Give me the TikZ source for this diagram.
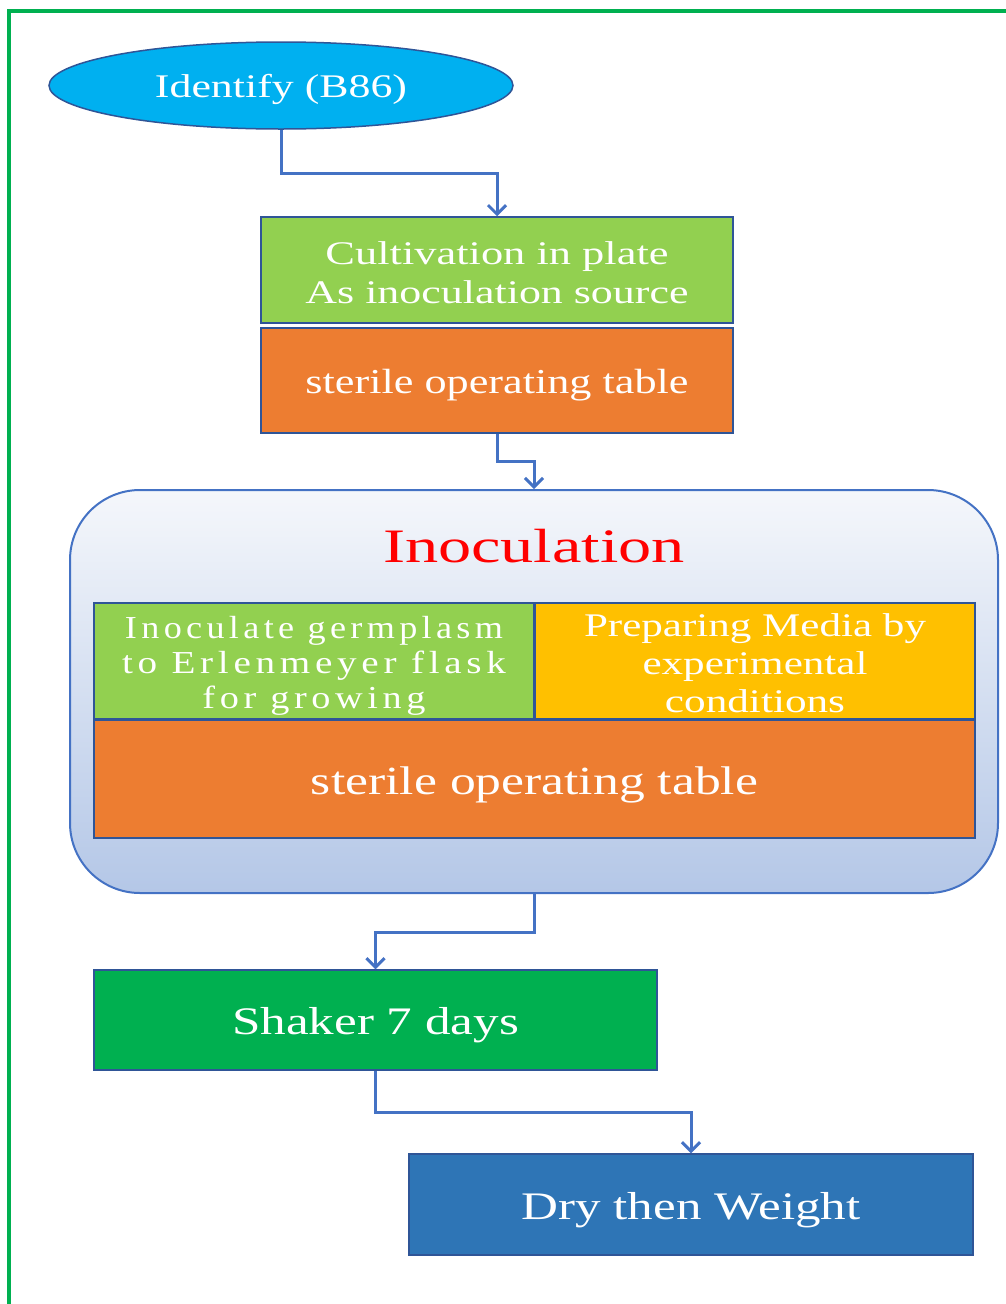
\documentclass[tikz,border=0pt]{standalone}
\usepackage{fontspec}
\setmainfont{Liberation Serif}
\newfontfamily\spacedfont[LetterSpace=12]{Liberation Serif}
\usetikzlibrary{arrows.meta,shapes.geometric}
\newcommand\sqz[2]{\resizebox{#1pt}{\height}{#2}}
\definecolor{cyanfill}{HTML}{00B0F0}
\definecolor{edgeblue}{HTML}{2F5597}
\definecolor{lgreen}{HTML}{92D050}
\definecolor{orng}{HTML}{ED7D31}
\definecolor{yell}{HTML}{FFC000}
\definecolor{dgreen}{HTML}{00B050}
\definecolor{dblue}{HTML}{2E75B6}
\definecolor{connblue}{HTML}{4472C4}
\definecolor{shadetop}{HTML}{F5F7FB}
\definecolor{shadebot}{HTML}{B4C7E7}
\tikzset{
  box/.style={rectangle, draw=edgeblue, line width=1.5pt, inner sep=0pt},
  txt/.style={inner sep=0pt, text=white, align=center},
  conn/.style={draw=connblue, line width=3pt, -{Straight Barb[length=9pt,width=18pt]}},
}
\begin{document}
\begin{tikzpicture}[x=1pt,y=-1pt]
\useasboundingbox (0,0) rectangle (1005,1304);
% outer green frame
\draw[dgreen, line width=4pt] (9,1310) -- (9,11) -- (1010,11);

% ellipse
\node[ellipse, fill=cyanfill, draw=edgeblue, line width=1.5pt, minimum width=464pt, minimum height=87pt, inner sep=0pt] (ell) at (281,85.5) {};
\node[txt, font=\fontsize{33}{39}\selectfont, yshift=-4pt] (ellT) at (ell) {\sqz{252}{Identify (B86)}};

% cultivation and sterile table
\node[box, fill=lgreen, minimum width=472pt, minimum height=106pt] (cult) at (497,270) {};
\node[txt, font=\fontsize{33}{39}\selectfont, yshift=-3pt] (cultT) at (cult)
  {\sqz{343}{Cultivation in plate}\\\sqz{383}{As inoculation source}};
\node[box, fill=orng, minimum width=472pt, minimum height=105pt] (st1) at (497,380.5) {};
\node[txt, font=\fontsize{35}{40}\selectfont, yshift=-5pt] (st1T) at (st1) {\sqz{383}{sterile operating table}};

% inoculation container
\node[rectangle, rounded corners=70pt, draw=connblue, line width=2pt, top color=shadetop, bottom color=shadebot,
  minimum width=928pt, minimum height=403pt, inner sep=0pt] (inoc) at (534,691.5) {};
\node[text=red, font=\fontsize{48}{52}\selectfont, inner sep=0pt] (title) at (534,546) {\sqz{302}{Inoculation}};

\node[box, fill=lgreen, minimum width=440pt, minimum height=116pt] (grn) at (314,661) {};
\node[txt, font=\spacedfont\fontsize{32}{35}\selectfont, yshift=-5pt] (grnT) at (grn)
  {\sqz{378}{Inoculate germplasm}\\\sqz{384}{to Erlenmeyer flask}\\\sqz{223}{for growing}};
\node[box, fill=yell, minimum width=440pt, minimum height=116pt] (yel) at (755,661) {};
\node[txt, font=\fontsize{33}{38}\selectfont, yshift=-2pt] (yelT) at (yel)
  {\sqz{342}{Preparing Media by}\\\sqz{225}{experimental}\\\sqz{180}{conditions}};
\node[box, fill=orng, minimum width=881pt, minimum height=118pt] (st2) at (534.5,779) {};
\node[txt, font=\fontsize{40}{44}\selectfont, yshift=-6pt] (st2T) at (st2) {\sqz{447}{sterile operating table}};

% shaker and dry
\node[box, fill=dgreen, minimum width=563pt, minimum height=100pt] (shk) at (375.5,1020) {};
\node[txt, font=\fontsize{39}{44}\selectfont, yshift=-5pt] (shkT) at (shk) {\sqz{287}{Shaker 7 days}};
\node[box, fill=dblue, minimum width=564pt, minimum height=101pt] (dry) at (691,1204.5) {};
\node[txt, font=\fontsize{39}{44}\selectfont, yshift=-6pt] (dryT) at (dry) {\sqz{339}{Dry then Weight}};

% connectors
\draw[conn] (ell.south) -- ++(0,44) -| (cult.north);
\draw[conn] (st1.south) -- ++(0,28) -| (inoc.north);
\draw[conn] (inoc.south) -- ++(0,38) -| (shk.north);
\draw[conn] (shk.south) -- ++(0,42) -| (dry.north);
\end{tikzpicture}
\end{document}
